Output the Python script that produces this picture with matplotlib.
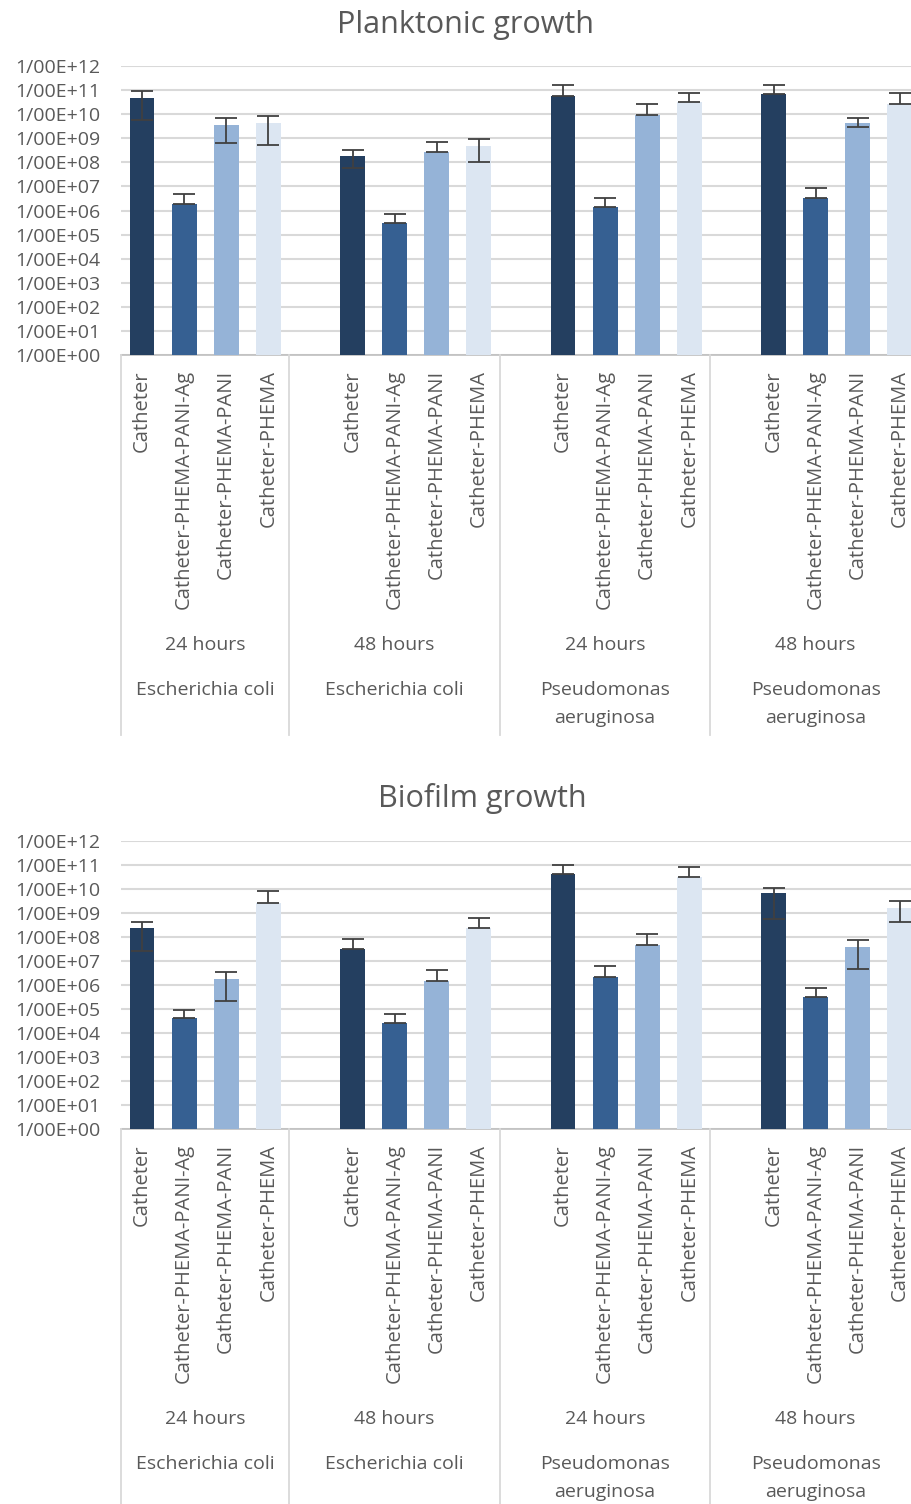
import numpy as np
import matplotlib
matplotlib.use("Agg")
import matplotlib.pyplot as plt
from matplotlib import transforms
from matplotlib.lines import Line2D
from matplotlib.ticker import FixedLocator, FuncFormatter

plt.rcParams['font.family'] = ['Open Sans', 'DejaVu Sans']

materials = ["Catheter", "Catheter-PHEMA-PANI-Ag", "Catheter-PHEMA-PANI", "Catheter-PHEMA"]
hours = ["24 hours", "48 hours", "24 hours", "48 hours"]
organisms = ["Escherichia coli", "Escherichia coli", "Pseudomonas\naeruginosa", "Pseudomonas\naeruginosa"]
colors = ["#243F60", "#366092", "#95B3D7", "#DCE6F2"]

# Planktonic growth (per group: Catheter, -PANI-Ag, -PANI, -PHEMA)
plank_val = [4.9e10, 1.9e6, 3.5e9, 4.5e9,
             1.9e8, 3.1e5, 2.75e8, 4.8e8,
             5.9e10, 1.35e6, 8.9e9, 3.3e10,
             7.1e10, 3.4e6, 4.5e9, 2.6e10]
plank_hi = [9.5e10, 4.7e6, 7.1e9, 8.7e9,
            3.2e8, 7.4e5, 6.8e8, 9.5e8,
            1.66e11, 3.3e6, 2.6e10, 7.8e10,
            1.66e11, 8.3e6, 7.1e9, 7.8e10]
plank_lo = [5.8e9, 1.9e6, 6.6e8, 5.2e8,
            6.0e7, 3.1e5, 2.75e8, 1.0e8,
            5.9e10, 1.35e6, 8.9e9, 3.3e10,
            7.1e10, 3.4e6, 2.8e9, 2.6e10]

# Biofilm growth
bio_val = [2.4e8, 4.4e4, 1.74e6, 2.7e9,
           3.2e7, 2.5e4, 1.4e6, 2.45e8,
           4.4e10, 2.1e6, 4.8e7, 3.1e10,
           6.8e9, 3.2e5, 4.0e7, 1.55e9]
bio_hi = [4.1e8, 8.7e4, 3.5e6, 7.9e9,
          7.9e7, 6.0e4, 4.1e6, 6.0e8,
          1.0e11, 6.0e6, 1.38e8, 8.5e10,
          1.15e10, 7.8e5, 7.8e7, 3.2e9]
bio_lo = [2.6e7, 4.4e4, 2.1e5, 2.7e9,
          3.2e7, 2.5e4, 1.4e6, 2.45e8,
          4.4e10, 2.1e6, 4.8e7, 3.1e10,
          5.8e8, 3.2e5, 4.8e6, 4.1e8]

W, H = 912, 1504
fig = plt.figure(figsize=(W / 100, H / 100), dpi=100)

text_col = "#595959"
grid_col = "#D9D9D9"
slot = 42.1
n_slots = 19


def panel(top_px, bottom_px, title, title_x, title_y, vals, hi, lo, sep_end):
    left = 121
    width = slot * n_slots
    ax = fig.add_axes([left / W, 1 - bottom_px / H, width / W, (bottom_px - top_px) / H])
    xs = []
    for g in range(4):
        for j in range(4):
            xs.append(5 * g + j)
    xs = np.array(xs)
    vals = np.array(vals)
    hi = np.array(hi)
    lo = np.array(lo)
    cols = [colors[j] for g in range(4) for j in range(4)]
    ax.set_yscale('log')
    ax.bar(xs, vals, width=0.59, color=cols, zorder=3, bottom=0)
    ax.errorbar(xs, vals, yerr=[vals - lo, hi - vals], fmt='none', ecolor='#404040',
                elinewidth=1.3, capsize=8, capthick=1.3, zorder=4)
    ax.set_ylim(1, 1e12)
    ax.set_xlim(-0.5, n_slots - 0.5)
    ax.yaxis.set_major_locator(FixedLocator([10.0 ** k for k in range(13)]))
    ax.yaxis.set_minor_locator(FixedLocator([]))
    ax.yaxis.set_major_formatter(FuncFormatter(lambda v, p: "1/00E+%02d" % int(round(np.log10(v)))))
    ax.tick_params(axis='y', length=0, pad=15, labelsize=14, labelcolor=text_col)
    ax.set_xticks([])
    ax.grid(axis='y', color=grid_col, linewidth=1.5, zorder=0)
    for s in ['left', 'right', 'top']:
        ax.spines[s].set_visible(False)
    ax.spines['bottom'].set_color("#BFBFBF")
    ax.spines['bottom'].set_linewidth(1.2)

    tr = transforms.blended_transform_factory(ax.transData, fig.transFigure)

    def fy(px):
        return 1 - px / H

    for x, j in zip(xs, [j for g in range(4) for j in range(4)]):
        ax.text(x, fy(bottom_px + 15), materials[j], transform=tr, rotation=90,
                ha='center', va='top', fontsize=14.5, color=text_col, clip_on=False)
    centers = [1.5, 6, 11, 16]
    for g in range(4):
        ax.text(centers[g], fy(bottom_px + 290), hours[g], transform=tr, ha='center',
                va='center', fontsize=14, color=text_col)
        for k, line in enumerate(organisms[g].split("\n")):
            ax.text(centers[g], fy(bottom_px + 335 + 28 * k), line, transform=tr,
                    ha='center', va='center', fontsize=14, color=text_col)
    for b in [-0.5, 3.5, 8.5, 13.5, 18.5]:
        fig.add_artist(Line2D([b, b], [fy(bottom_px), fy(sep_end)], transform=tr,
                              color=grid_col, linewidth=1.3, clip_on=False))
    fig.text(title_x / W, fy(title_y), title, ha='center', va='center',
             fontsize=22, color=text_col)
    return ax


panel(66, 355, "Planktonic growth", 466, 25, plank_val, plank_hi, plank_lo, 735)
panel(841, 1129, "Biofilm growth", 482, 798, bio_val, bio_hi, bio_lo, 1504)

fig.savefig("out.png", dpi=100)
